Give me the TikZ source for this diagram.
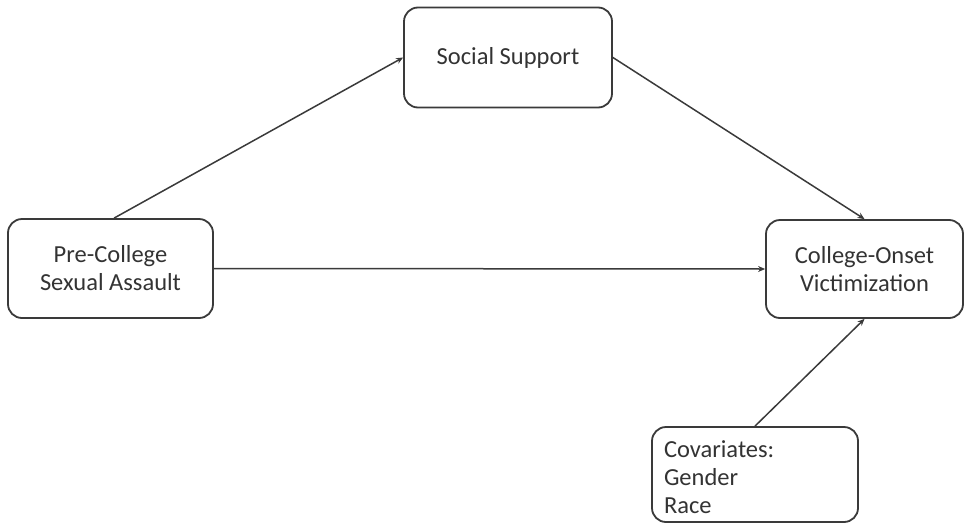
\documentclass[tikz,border=0pt]{standalone}
\usepackage{fontspec}
\setmainfont{Carlito}
\usetikzlibrary{arrows.meta}
\definecolor{txt}{HTML}{333333}
\definecolor{ln}{HTML}{3A3A3A}
\begin{document}
\begin{tikzpicture}[x=1pt,y=-1pt,
  box/.style={draw=ln, line width=1.8pt, rounded corners=14pt, fill=white,
    text=txt, font=\fontsize{24.5}{28}\selectfont, align=center, inner sep=0pt},
  conn/.style={draw=ln, line width=1.5pt, -{Stealth[length=7pt,width=6pt]}}]
\useasboundingbox (0,0) rectangle (968,525);
\node[box, minimum width=208pt, minimum height=100pt] (ss) at (508,57.5) {Social Support};
\node[box, minimum width=205pt, minimum height=99pt] (pc) at (110.5,268.5) {Pre-College\\Sexual Assault};
\node[box, minimum width=197pt, minimum height=98pt] (cv) at (864.5,269) {College-Onset\\Victimization};
\node[box, minimum width=206pt, minimum height=95pt, align=left, text width=182pt] (co) at (755,474.5) {\rule{0pt}{22pt}Covariates:\\Gender\\Race};
\draw[conn] (pc.north west) ++(107,0) coordinate (pcA) -- (ss.west);
\draw[conn] (ss.east) -- (cv.north);
\draw[conn] (pc.east) -- (cv.west);
\draw[conn] (co.north) -- (cv.south);
\end{tikzpicture}
\end{document}
